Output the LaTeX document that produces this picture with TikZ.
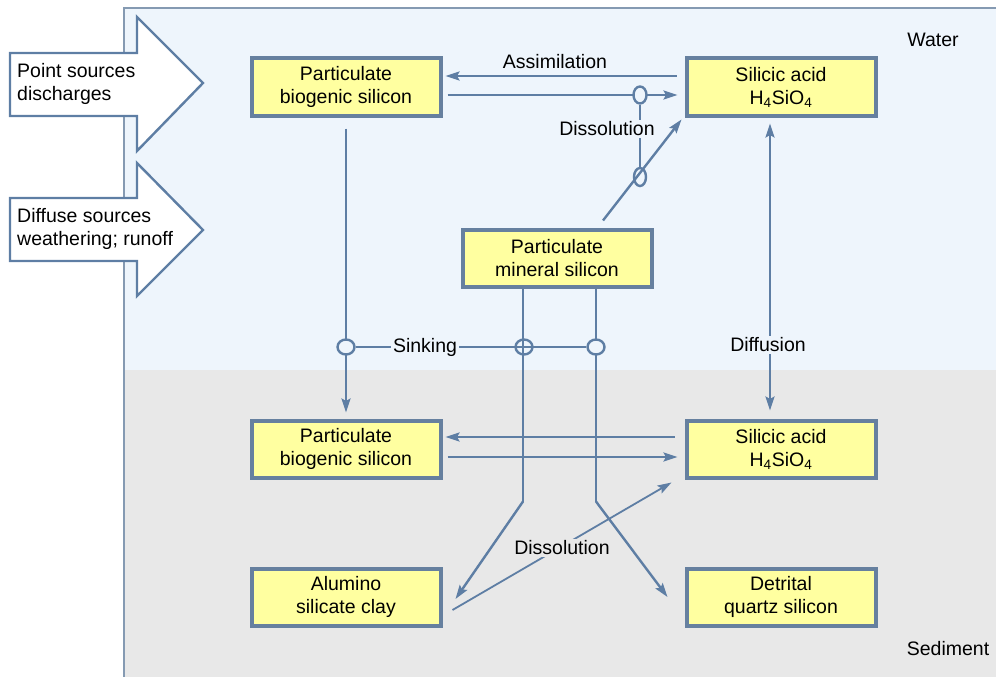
\documentclass[tikz,border=0pt]{standalone}
\usepackage{fontspec}
\setmainfont{Liberation Sans}
\usetikzlibrary{arrows.meta,calc,shapes.geometric}
\definecolor{waterbg}{HTML}{EEF5FC}
\definecolor{sedbg}{HTML}{E8E8E8}
\definecolor{linec}{HTML}{5E7EA4}
\definecolor{boxline}{HTML}{66809F}
\definecolor{boxfill}{HTML}{FFFFA0}
\tikzset{
  sibox/.style={draw=boxline, line width=4pt, fill=boxfill, minimum width=189pt, minimum height=57pt, align=center, inner sep=0pt, font=\fontsize{19.5}{23}\selectfont},
  flow/.style={draw=linec, line width=2.4pt, -{Stealth[length=14pt,width=9pt,inset=2.5pt]}},
  plain/.style={draw=linec, line width=2.4pt},
  ring/.style={draw=linec, line width=2.4pt, ellipse, minimum width=#1, inner sep=0pt},
  lbl/.style={font=\fontsize{19.5}{23}\selectfont, inner sep=2pt},
  bigarrow/.style={draw=linec, line width=2.4pt, fill=white, line join=miter}
}
\begin{document}
\begin{tikzpicture}[x=1pt,y=-1pt]
\useasboundingbox (0,0) rectangle (996,677);
% regions
\fill[waterbg] (124,8) rectangle (996,370);
\fill[sedbg] (124,370) rectangle (996,677);
\draw[boxline!80, line width=2pt] (124,677) -- (124,8) -- (997,8);
% big input arrows
\draw[bigarrow] (10,53) -- (137,53) -- (137,17) -- (203,83) -- (137,151) -- (137,116) -- (10,116) -- cycle;
\draw[bigarrow] (10,198) -- (137,198) -- (137,163) -- (203,230) -- (137,296) -- (137,261) -- (10,261) -- cycle;
\node[lbl, anchor=west, align=left] (ps) at (15,84) {Point sources\\discharges};
\node[lbl, anchor=west, align=left] (ds) at (15,229) {Diffuse sources\\weathering; runoff};
% labels for regions
\node[lbl] (water) at (933,40) {Water};
\node[lbl] (sed) at (948,649) {Sediment};
% boxes
\node[sibox] (pbsW) at (346,87) {Particulate\\biogenic silicon};
\node[sibox] (saW) at (781,87) {Silicic acid\\H\textsubscript{4}SiO\textsubscript{4}};
\node[sibox] (pms) at (557,258) {Particulate\\mineral silicon};
\node[sibox] (pbsS) at (346,449) {Particulate\\biogenic silicon};
\node[sibox] (saS) at (781,449) {Silicic acid\\H\textsubscript{4}SiO\textsubscript{4}};
\node[sibox] (alu) at (346,597) {Alumino\\silicate clay};
\node[sibox] (det) at (781,597) {Detrital\\quartz silicon};
% top exchanges
\draw[flow] ([xshift=-8pt,yshift=11pt]saW.west) -- ([xshift=3pt,yshift=11pt]pbsW.east);
\node[lbl] (assim) at (555,62) {Assimilation};
\draw[flow] ([xshift=5pt,yshift=-8pt]pbsW.east) -- ([xshift=-7pt,yshift=-8pt]saW.west);
\draw[flow] ([xshift=46pt,yshift=7pt]pms.north) -- ([xshift=-3pt,yshift=-2pt]saW.south west);
\node[ring=13pt, minimum height=17pt, fill=waterbg] (r1) at (640,95) {};
\node[ring=12pt, minimum height=18pt] (r2) at (640,177) {};
\draw[plain] (r1.south) -- (r2.north);
\node[lbl, fill=waterbg] (dis1) at (607,129) {Dissolution};
% diffusion
\draw[draw=linec, line width=2.4pt, {Stealth[length=14pt,width=9pt,inset=2.5pt]}-{Stealth[length=14pt,width=9pt,inset=2.5pt]}] ([xshift=-11pt,yshift=-6pt]saW.south) -- ([xshift=-11pt,yshift=8pt]saS.north);
\node[lbl, fill=waterbg] (diff) at (768,345) {Diffusion};
% sinking
\draw[flow] ([yshift=-11pt]pbsW.south) -- ([yshift=6pt]pbsS.north);
\draw[plain] ([xshift=-34pt]pms.south) -- ++(0,213) coordinate (aluBend);
\draw[flow] (aluBend) -- ([xshift=13pt,yshift=-2pt]alu.east);
\draw[plain] ([xshift=39pt]pms.south) -- ++(0,213) coordinate (detBend);
\draw[flow] (detBend) -- ([xshift=-17pt]det.west);
\node[ring=17pt, minimum height=15pt, fill=waterbg] (s1) at (346,347) {};
\node[ring=17pt, minimum height=15pt] (s2) at (524,347) {};
\node[ring=17pt, minimum height=15pt, fill=waterbg] (s3) at (596,347) {};
\draw[plain] (s1.east) -- (s3.west);
\node[lbl, fill=waterbg] (sink) at (425,347) {Sinking};
% bottom exchanges
\draw[flow] ([xshift=-10pt,yshift=12pt]saS.west) -- ([xshift=3pt,yshift=12pt]pbsS.east);
\draw[flow] ([xshift=5pt,yshift=-8pt]pbsS.east) -- ([xshift=-7pt,yshift=-8pt]saS.west);
\draw[flow, line width=1.8pt] ([xshift=10pt,yshift=-13pt]alu.east) -- ([xshift=-13pt,yshift=-3pt]saS.south west);
\node[lbl, fill=sedbg] (dis2) at (562,548) {Dissolution};
\end{tikzpicture}
\end{document}
